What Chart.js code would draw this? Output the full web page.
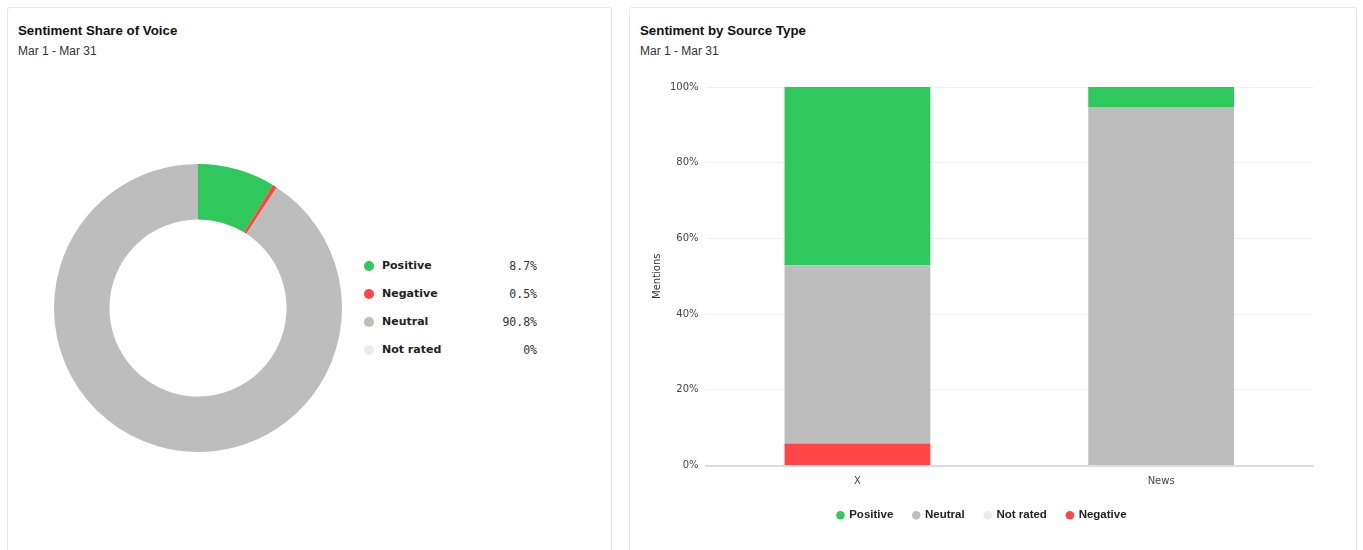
<!DOCTYPE html>
<html>
<head>
<meta charset="utf-8">
<script src="https://cdn.jsdelivr.net/npm/chart.js@4.4.1/dist/chart.umd.min.js"></script>
<style>
  body { margin: 0; background: #fff; font-family: "Liberation Sans", Arial, sans-serif; width: 1363px; height: 550px; overflow: hidden; position: relative; }
  .card { position: absolute; top: 7px; height: 560px; border: 1px solid #e6e6e6; border-radius: 3px; background: #fff; }
  .title { position: absolute; left: 10px; top: 15px; font-size: 13.3px; font-weight: bold; color: #111; }
  .sub { position: absolute; left: 10px; top: 36px; font-size: 12px; color: #333; }
  .legend { position: absolute; left: 354px; top: 250px; width: 175px; }
  .row { position: relative; height: 28px; line-height: 16px; }
  .dot { position: absolute; left: 2px; top: 3px; width: 10px; height: 10px; border-radius: 50%; }
  .lab { position: absolute; left: 20px; top: 0; font-family: "DejaVu Sans", sans-serif; font-size: 11px; font-weight: bold; color: #222; }
  .val { position: absolute; right: 0; top: 0; font-family: "DejaVu Sans Mono", monospace; font-size: 11.5px; color: #333; }
</style>
</head>
<body>
<div class="card" style="left:7px; width:603px;">
  <div class="title">Sentiment Share of Voice</div>
  <div class="sub">Mar 1 - Mar 31</div>
  <div style="position:absolute; left:46px; top:156px; width:288px; height:288px;">
    <canvas id="donut"></canvas>
  </div>
  <div class="legend" id="donutLegend"></div>
</div>
<div class="card" style="left:629px; width:726px;">
  <div class="title">Sentiment by Source Type</div>
  <div class="sub">Mar 1 - Mar 31</div>
  <div style="position:absolute; left:21px; top:66px; width:694px; height:457px;">
    <canvas id="bars"></canvas>
  </div>
</div>
<script>
// Sentiment share (doughnut)
const shareLabels = ['Positive', 'Negative', 'Neutral', 'Not rated'];
const shareValues = [8.7, 0.5, 90.8, 0];
const shareColors = ['#2ec85c', '#ff4646', '#bdbdbd', '#ebebeb'];

// Sentiment by source type (stacked bars, bottom to top)
const sources = ['X', 'News'];
const negativeVals = [5.8, 0];
const notRatedVals = [0, 0];
const neutralVals = [47.1, 94.7];
const positiveVals = [47.1, 5.3];
const yTicks = [0, 20, 40, 60, 80, 100];

new Chart(document.getElementById('donut').getContext('2d'), {
    type: 'doughnut',
    data: {
        labels: shareLabels,
        datasets: [{
            data: shareValues,
            backgroundColor: shareColors,
            borderWidth: 0
        }]
    },
    options: {
        responsive: true,
        maintainAspectRatio: false,
        animation: false,
        cutout: '61.5%',
        plugins: { legend: { display: false }, tooltip: { enabled: false } }
    }
});

// HTML legend with values
const legendEl = document.getElementById('donutLegend');
shareLabels.forEach((l, i) => {
    const row = document.createElement('div');
    row.className = 'row';
    row.innerHTML = '<span class="dot" style="background:' + shareColors[i] + '"></span>' +
        '<span class="lab">' + l + '</span><span class="val">' + shareValues[i] + '%</span>';
    legendEl.appendChild(row);
});

const barDs = (label, data, color) => ({
    label: label,
    data: data,
    backgroundColor: color,
    borderWidth: 0,
    barPercentage: 0.6,
    categoryPercentage: 0.8
});

new Chart(document.getElementById('bars').getContext('2d'), {
    type: 'bar',
    data: {
        labels: sources,
        datasets: [
            barDs('Negative', negativeVals, '#ff4646'),
            barDs('Not rated', notRatedVals, '#ebebeb'),
            barDs('Neutral', neutralVals, '#bdbdbd'),
            barDs('Positive', positiveVals, '#2ec85c')
        ]
    },
    options: {
        responsive: true,
        maintainAspectRatio: false,
        animation: false,
        layout: { padding: { left: 0, right: 32, top: 9, bottom: 0 } },
        scales: {
            x: {
                stacked: true,
                grid: { display: false },
                border: { color: '#dcdcdc', width: 2 },
                ticks: { color: '#444', font: { family: 'DejaVu Sans', size: 10 }, padding: 2 }
            },
            y: {
                stacked: true,
                min: 0,
                max: 100,
                afterBuildTicks: (axis) => { axis.ticks = yTicks.map(v => ({ value: v })); },
                grid: { color: '#f0f0f0', drawTicks: false },
                border: { display: false },
                ticks: {
                    color: '#444',
                    padding: 7,
                    font: { family: 'DejaVu Sans', size: 10 },
                    callback: (v) => v + '%'
                },
                title: { display: true, text: 'Mentions', color: '#333', font: { family: 'DejaVu Sans', size: 10 }, padding: { top: 0, bottom: 0 } }
            }
        },
        plugins: {
            tooltip: { enabled: false },
            legend: {
                position: 'bottom',
                reverse: true,
                labels: {
                    usePointStyle: true,
                    pointStyle: 'circle',
                    boxWidth: 6,
                    boxHeight: 6,
                    padding: 20,
                    color: '#222',
                    font: { family: 'Liberation Sans', size: 11.5, weight: 'bold' }
                }
            }
        }
    }
});
</script>
</body>
</html>
